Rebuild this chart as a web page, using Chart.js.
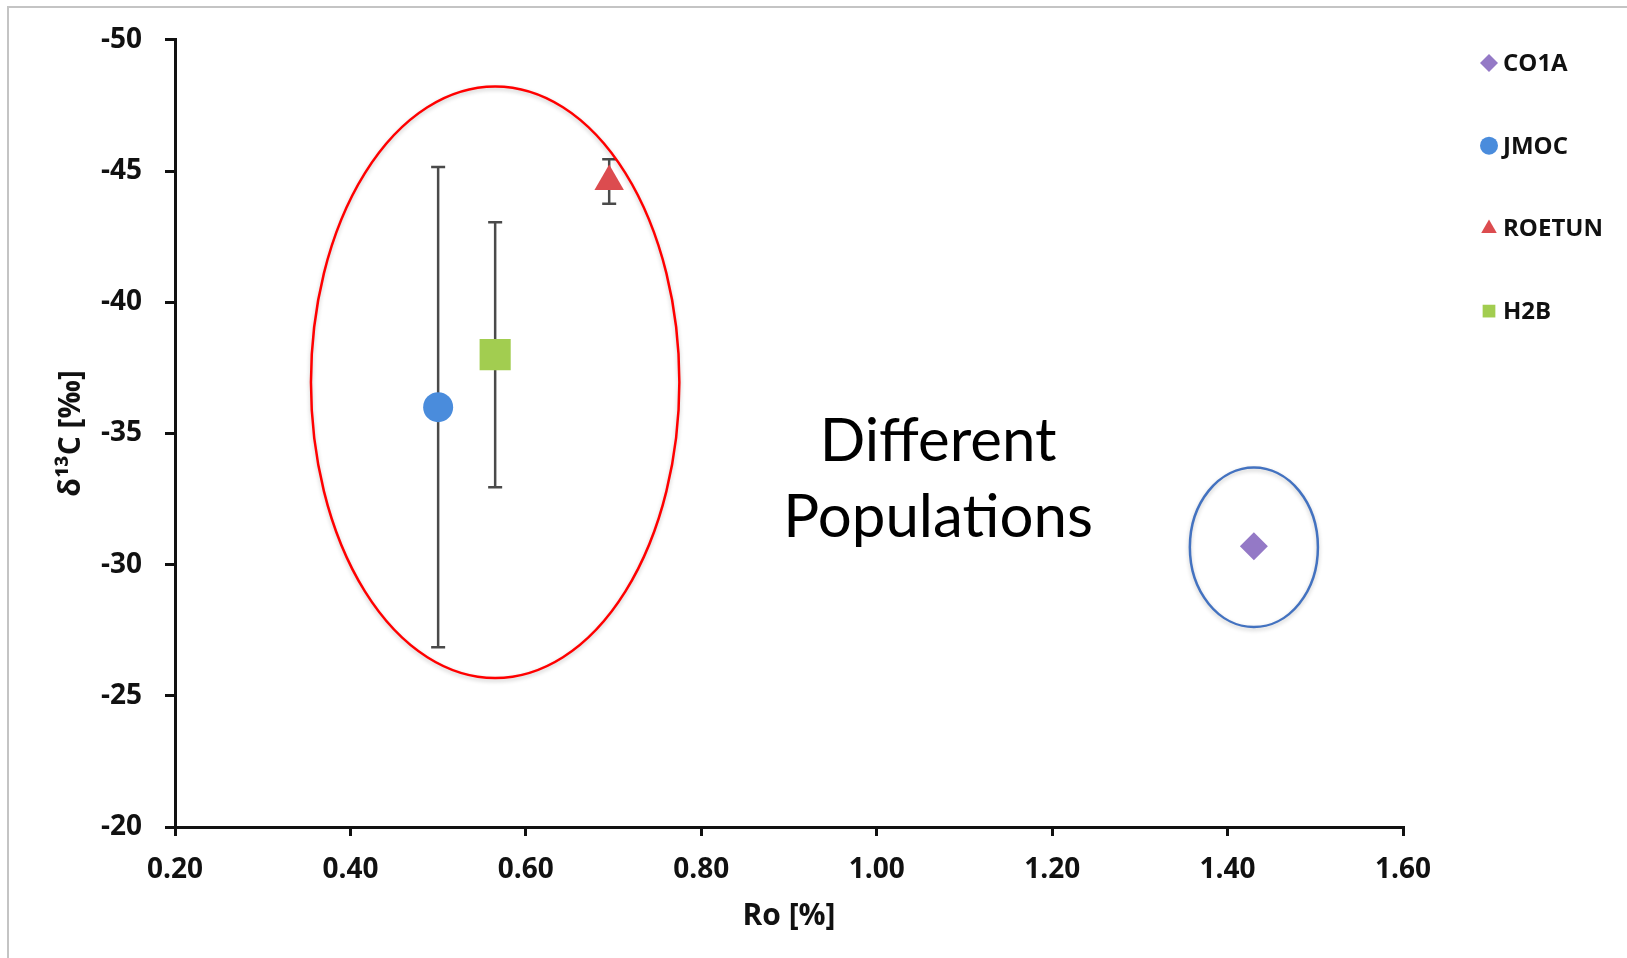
<!DOCTYPE html>
<html>
<head>
<meta charset="utf-8">
<script src="https://cdn.jsdelivr.net/npm/chart.js@4.4.1/dist/chart.umd.min.js"></script>
<style>
  html, body { margin: 0; padding: 0; background: #fff; }
  .wrap { position: relative; width: 1627px; height: 958px; overflow: hidden; }
  .frame { position: absolute; left: 7px; top: 6px; right: -10px; bottom: -10px;
           border-left: 2px solid #c4c4c4; border-top: 2px solid #c4c4c4; }
  canvas { position: absolute; left: 0; top: 0; }
</style>
</head>
<body>
<div class="wrap">
  <div class="frame"></div>
  <canvas id="chart" width="1627" height="958"></canvas>
</div>
<script>
const seriesNames = ['CO1A', 'JMOC', 'ROETUN', 'H2B'];
const roValues = [1.43, 0.50, 0.695, 0.565];
const d13cValues = [-30.7, -36.0, -44.6, -38.0];
const d13cErrors = [0, 9.15, 0.85, 5.05];

const pointStyles = ['rectRot', 'circle', 'triangle', 'rect'];
const pointColors = ['#9479c6', '#4a8cdc', '#dc4c4f', '#a2cd50'];
const pointSizes = [14, 15, 17, 22];

// ellipses round the two groups, in axis units
const groupCenters = [[0.565, -36.95], [1.43, -30.66]];
const groupRadii = [[0.21, 11.27], [0.073, 3.04]];
const groupColors = ['#ff0000', '#4372c0'];

const noteLines = ['Different', 'Populations'];
const notePos = [1.07, -32.5];

const tickFont = { family: 'Open Sans', weight: 'bold', size: 28 };

const errorBars = {
  id: 'errorBars',
  beforeDatasetsDraw(chart) {
    const { ctx, scales: { x, y } } = chart;
    ctx.save();
    ctx.strokeStyle = '#4a4a4a';
    ctx.lineWidth = 2.5;
    d13cErrors.forEach((err, i) => {
      if (!err) return;
      const px = x.getPixelForValue(roValues[i]);
      const top = y.getPixelForValue(d13cValues[i] - err);
      const bot = y.getPixelForValue(d13cValues[i] + err);
      ctx.beginPath();
      ctx.moveTo(px, top);
      ctx.lineTo(px, bot);
      ctx.moveTo(px - 7, top);
      ctx.lineTo(px + 7, top);
      ctx.moveTo(px - 7, bot);
      ctx.lineTo(px + 7, bot);
      ctx.stroke();
    });
    ctx.restore();
  }
};

const groups = {
  id: 'groups',
  afterDatasetsDraw(chart) {
    const { ctx, scales: { x, y } } = chart;
    ctx.save();
    groupCenters.forEach((c, i) => {
      const cx = x.getPixelForValue(c[0]);
      const cy = y.getPixelForValue(c[1]);
      const rx = Math.abs(x.getPixelForValue(c[0] + groupRadii[i][0]) - cx);
      const ry = Math.abs(y.getPixelForValue(c[1] + groupRadii[i][1]) - cy);
      ctx.beginPath();
      ctx.ellipse(cx, cy, rx, ry, 0, 0, Math.PI * 2);
      ctx.strokeStyle = groupColors[i];
      ctx.lineWidth = 2.5;
      ctx.shadowColor = 'rgba(0,0,0,0.22)';
      ctx.shadowBlur = 4;
      ctx.shadowOffsetY = 2;
      ctx.stroke();
    });
    ctx.shadowColor = 'transparent';
    ctx.font = '60px Lato';
    ctx.fillStyle = '#000';
    ctx.textAlign = 'center';
    ctx.textBaseline = 'alphabetic';
    const nx = x.getPixelForValue(notePos[0]);
    const ny = y.getPixelForValue(notePos[1]);
    noteLines.forEach((line, i) => {
      ctx.fillText(line, nx, ny + (i - 0.5) * 76);
    });
    ctx.restore();
  }
};

const sideLegend = {
  id: 'sideLegend',
  afterDraw(chart) {
    const { ctx } = chart;
    ctx.save();
    ctx.font = 'bold 24px "Open Sans"';
    ctx.textBaseline = 'middle';
    ctx.textAlign = 'left';
    chart.data.datasets.forEach((ds, i) => {
      const yy = 63 + i * 82.7;
      ctx.fillStyle = ds.backgroundColor;
      ctx.strokeStyle = ds.backgroundColor;
      Chart.helpers.drawPoint(ctx, { pointStyle: ds.pointStyle, radius: 9, rotation: 0, borderWidth: 0 }, 1489, yy);
      ctx.fillStyle = '#111';
      ctx.fillText(ds.label, 1503, yy + 1);
    });
    ctx.restore();
  }
};

function drawChart() {
  const ctx = document.getElementById('chart').getContext('2d');
  new Chart(ctx, {
    type: 'scatter',
    data: {
      datasets: seriesNames.map((name, i) => ({
        label: name,
        data: [{ x: roValues[i], y: d13cValues[i] }],
        pointStyle: pointStyles[i],
        backgroundColor: pointColors[i],
        borderColor: pointColors[i],
        borderWidth: 0,
        pointRadius: pointSizes[i],
        pointHoverRadius: pointSizes[i]
      }))
    },
    options: {
      responsive: false,
      animation: false,
      layout: { padding: { top: 37, right: 224, bottom: 10, left: 20 } },
      plugins: { legend: { display: false }, tooltip: { enabled: false } },
      scales: {
        x: {
          type: 'linear',
          min: 0.2,
          max: 1.6,
          ticks: { stepSize: 0.2, padding: 17, color: '#111', font: tickFont,
                   callback: v => v.toFixed(2) },
          grid: { drawOnChartArea: false, tickLength: 9, color: '#111', lineWidth: 3 },
          border: { color: '#111', width: 3 },
          title: { display: true, text: 'Ro [%]', color: '#111',
                   font: { family: 'Open Sans', weight: 'bold', size: 30 },
                   padding: { top: 0, bottom: 14 } },
          afterFit: s => { s.height = 121; }
        },
        y: {
          type: 'linear',
          reverse: true,
          min: -50,
          max: -20,
          ticks: { stepSize: 5, padding: 23, color: '#111', font: tickFont },
          grid: { drawOnChartArea: false, tickLength: 10, color: '#111', lineWidth: 3 },
          border: { color: '#111', width: 3 },
          title: { display: true, text: 'δ¹³C [‰]', color: '#111',
                   font: { family: 'Open Sans', weight: 'bold', size: 30 },
                   padding: { top: 33, bottom: 0 } },
          afterFit: s => { s.width = 155; }
        }
      }
    },
    plugins: [errorBars, groups, sideLegend]
  });
}

Promise.all([
  document.fonts.load('bold 28px "Open Sans"'),
  document.fonts.load('60px Lato')
]).catch(() => {}).then(drawChart);
</script>
</body>
</html>
